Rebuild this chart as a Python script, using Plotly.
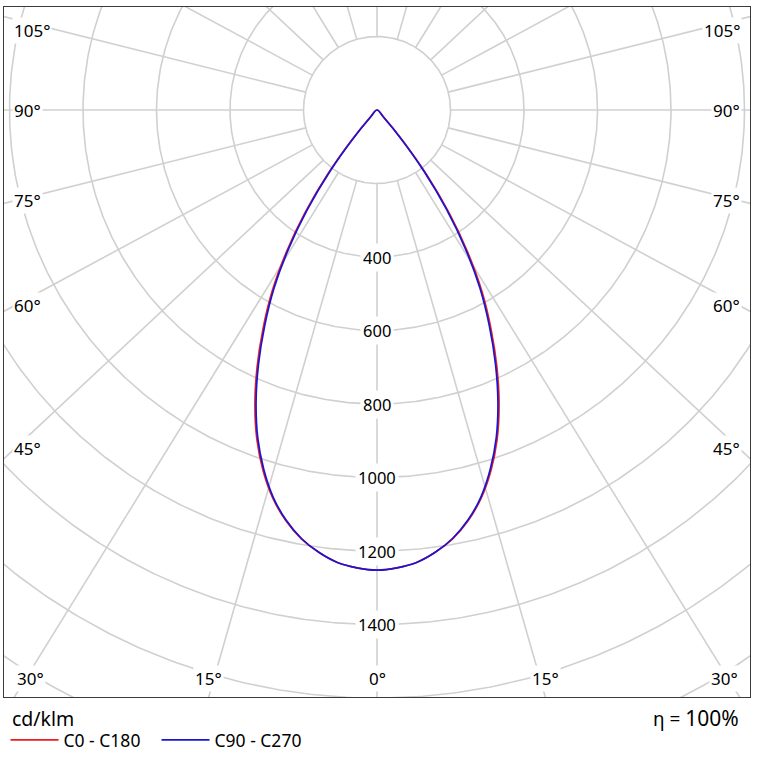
import numpy as np
import plotly.graph_objects as go

# ---------------- data ----------------
gamma_deg = [0, 2.5, 5, 7.5, 10, 12.5, 15, 17.5, 20, 22.5, 25, 27.5, 30, 32.5, 35, 37.5, 40, 42.5,
             45, 50, 55, 60, 65, 70, 75, 80, 85, 90]
c0_c180 = [1252, 1247, 1236, 1214, 1185, 1145, 1094, 1030, 955, 868, 772, 672, 572, 460, 342, 222, 110, 30,
           0, 0, 0, 0, 0, 0, 0, 0, 0, 0]
c90_c270 = [1252, 1247, 1236, 1214, 1184, 1143, 1091, 1025, 949, 860, 763, 662, 561, 448, 330, 210, 100, 25,
            0, 0, 0, 0, 0, 0, 0, 0, 0, 0]
series_names = ["C0 - C180", "C90 - C270"]
series_colors = ["#ee1c1c", "#1a14d4"]
circle_values = [200, 400, 600, 800, 1000, 1200, 1400, 1600, 1800]
radius_labels = [400, 600, 800, 1000, 1200, 1400]
angle_labels = [0, 15, 30, 45, 60, 75, 90, 105]
unit_text = "cd/klm"
eta_label = "η ="
eta_value = "100%"

# ---------------- geometry ----------------
W, H = 757, 762
L, R, T, B = 4, 750, 7, 697          # plot frame in px
CX, CY = 377, 110                    # polar centre in px
S = 0.3675                           # px per cd/klm
K = 1.07                             # horizontal stretch of the radial grid
x0, x1 = (L - CX) / S, (R - CX) / S
y0, y1 = (CY - B) / S, (CY - T) / S
FONT = "Noto Sans"
GRID = "#d0d0d0"

fig = go.Figure()

# circles
th = np.linspace(0, 2 * np.pi, 721)
cx, cy = [], []
for r in circle_values:
    cx += list(r * np.cos(th)) + [None]
    cy += list(r * np.sin(th)) + [None]
fig.add_trace(go.Scatter(x=cx, y=cy, mode="lines", line=dict(color=GRID, width=1.6),
                         hoverinfo="skip", showlegend=False))

# radial lines
rx, ry = [], []
for a in range(0, 360, 15):
    g = np.radians(a)
    v = np.array([K * np.sin(g), -np.cos(g)])
    v = v / np.linalg.norm(v)
    rx += [200 * v[0], 3000 * v[0], None]
    ry += [200 * v[1], 3000 * v[1], None]
fig.add_trace(go.Scatter(x=rx, y=ry, mode="lines", line=dict(color=GRID, width=1.6),
                         hoverinfo="skip", showlegend=False))

# curves
def closed_path(vals):
    g = np.radians(gamma_deg)
    v = np.array(vals, dtype=float)
    xs = list(-v[::-1] * np.sin(g[::-1])) + list(v[1:] * np.sin(g[1:]))
    ys = list(-v[::-1] * np.cos(g[::-1])) + list(-v[1:] * np.cos(g[1:]))
    px, py = [], []
    for x, y in zip(xs, ys):
        if px and abs(x - px[-1]) < 1e-9 and abs(y - py[-1]) < 1e-9:
            continue
        px.append(x)
        py.append(y)
    return px, py

for vals, name, col in zip([c0_c180, c90_c270], series_names, series_colors):
    px, py = closed_path(vals)
    fig.add_trace(go.Scatter(x=px, y=py, mode="lines", name=name,
                             line=dict(color=col, width=1.7, shape="spline", smoothing=1.0),
                             hoverinfo="skip"))

annotations = []
# radius labels
for v in radius_labels:
    annotations.append(dict(x=0, y=-v, xref="x", yref="y", text=str(v), showarrow=False,
                            font=dict(family=FONT, size=16.5, color="#000"), bgcolor="#ffffff",
                            borderpad=2, xanchor="center", yanchor="middle"))

# angle labels
for a in angle_labels:
    g = np.radians(a)
    sides = [1] if a == 0 else [-1, 1]
    dx, dy = K * np.sin(g), -np.cos(g)
    hits_bottom = dy < 0 and (y0 / dy) * dx <= x1
    for sd in sides:
        if hits_bottom:
            xb = min((y0 / dy) * dx, x1 - 26 / S)
            annotations.append(dict(x=sd * xb, y=y0 + 19 / S, xref="x", yref="y", text=f"{a}°",
                                    showarrow=False, font=dict(family=FONT, size=17, color="#000"),
                                    bgcolor="#ffffff", borderpad=1, xanchor="center", yanchor="middle"))
        else:
            yy = min(dy * (x1 - 10.7 / S) / dx, y1 - 23 / S)
            xa = sd * (x1 - 8 / S)
            annotations.append(dict(x=xa, y=yy, xref="x", yref="y", text=f"{a}°",
                                    showarrow=False, font=dict(family=FONT, size=17, color="#000"),
                                    bgcolor="#ffffff", borderpad=1,
                                    xanchor="left" if sd < 0 else "right", yanchor="middle"))

pw, ph = R - L, B - T
annotations.append(dict(x=(10 - L) / pw, y=(B - 718) / ph, xref="paper", yref="paper", text=unit_text,
                        showarrow=False, font=dict(family=FONT, size=19.5, color="#000"),
                        xanchor="left", yanchor="middle"))
annotations.append(dict(x=(741 - L) / pw, y=(B - 718) / ph, xref="paper", yref="paper",
                        text=f"{eta_label} <span style='font-size:21px'>{eta_value}</span>",
                        showarrow=False, font=dict(family=FONT, size=19, color="#000"),
                        xanchor="right", yanchor="middle"))

fig.update_layout(
    width=W, height=H,
    margin=dict(l=L, r=W - R, t=T, b=H - B, pad=0),
    paper_bgcolor="#ffffff", plot_bgcolor="#ffffff",
    xaxis=dict(range=[x0, x1], showgrid=False, zeroline=False, showticklabels=False, ticks="",
               showline=True, mirror=True, linecolor="#3a3a3a", linewidth=1.2, fixedrange=True),
    yaxis=dict(range=[y0, y1], showgrid=False, zeroline=False, showticklabels=False, ticks="",
               showline=True, mirror=True, linecolor="#3a3a3a", linewidth=1.2, fixedrange=True),
    annotations=annotations,
    showlegend=True,
    legend=dict(orientation="h", x=1.5 / pw, xanchor="left", y=(B - 740) / ph, yanchor="middle",
                font=dict(family=FONT, size=17.5, color="#000"), itemwidth=48,
                entrywidth=88, entrywidthmode="pixels", bgcolor="rgba(0,0,0,0)",
                borderwidth=0, traceorder="normal"),
)

fig.write_html("out.html", config={"displayModeBar": False},
               post_script="document.body.style.margin='0px';document.body.style.overflow='hidden';")
